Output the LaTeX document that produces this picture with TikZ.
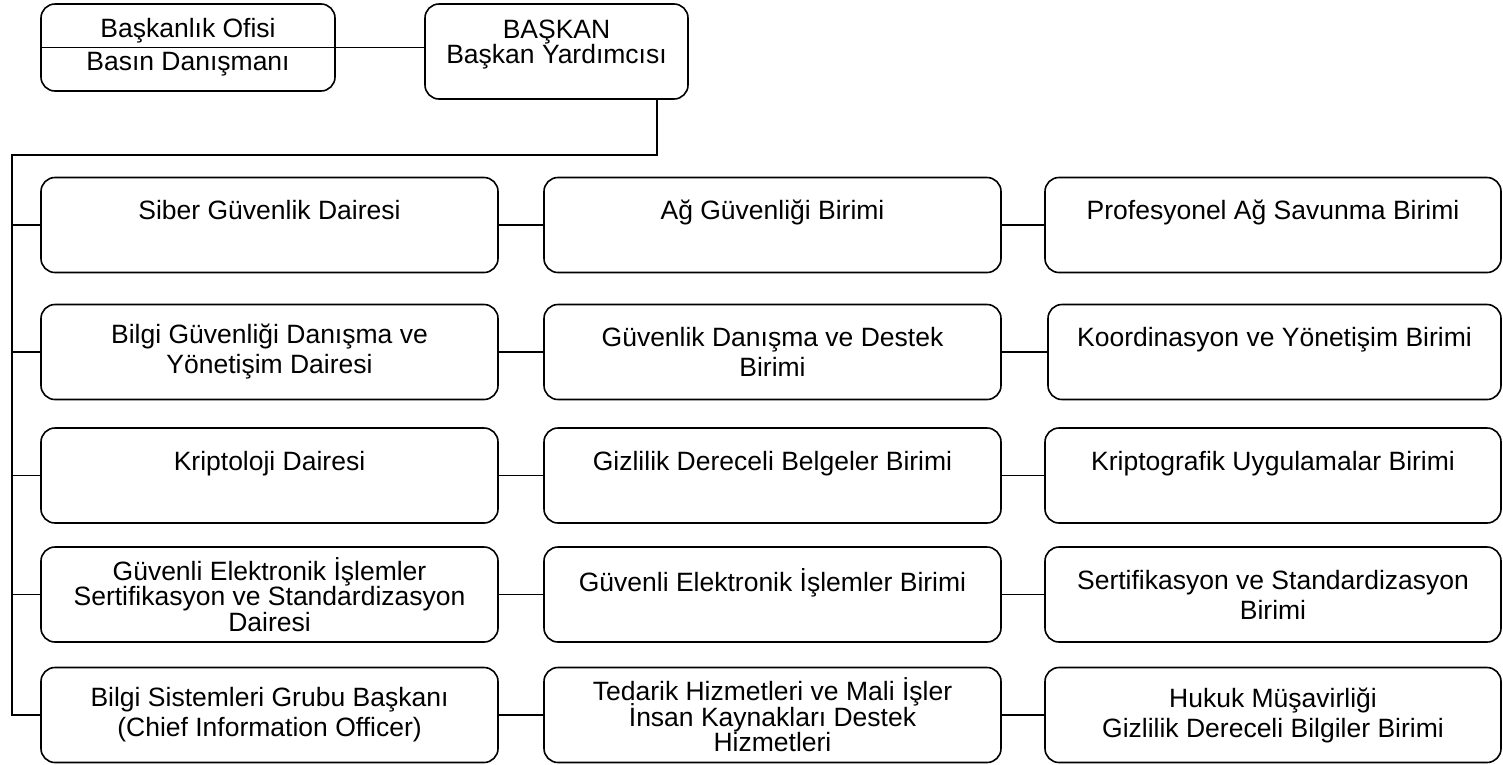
\documentclass[tikz,border=0pt]{standalone}
\usepackage{fontspec}
\setmainfont{Liberation Sans}
\usepackage{tikz}
\newcommand{\blankline}{\\\mbox{}}
\newcommand{\tightfont}{\fontsize{26.5}{25.5}\selectfont\setlength{\lineskiplimit}{-50pt}\relax}

\begin{document}
\begin{tikzpicture}[x=1pt, y=-1pt,
  box/.style={rectangle, rounded corners=14pt, draw=black, line width=1.6pt, minimum width=457pt, minimum height=95pt, inner sep=0pt, align=center, font=\fontsize{26.5}{30}\selectfont},
  tight/.style={font=\tightfont},
  lnk/.style={line width=1.6pt}
]
\useasboundingbox (0,0) rectangle (1503,764);

% top
\node[box, minimum width=294pt, minimum height=87pt] (ofis) at (188,47.5) {Başkanlık Ofisi\\[3pt]Basın Danışmanı};
\node[box, font=\fontsize{26.5}{25}\selectfont, minimum width=263pt] (baskan) at (556.5,51.5) {BAŞKAN\\Başkan Yardımcısı\\[-5pt]\mbox{}};

% daireler
\node[box] (siber) at (269.5,225) {Siber Güvenlik Dairesi\blankline};
\node[box] (bilgidanisma) at (269.5,352) {Bilgi Güvenliği Danışma ve\\Yönetişim Dairesi};
\node[box] (kripto) at (269.5,475.5) {Kriptoloji Dairesi\blankline};
\node[box, tight] (gei) at (269.5,594.5) {Güvenli Elektronik İşlemler\\Sertifikasyon ve Standardizasyon\\Dairesi};
\node[box] (bsgb) at (269.5,715) {Bilgi Sistemleri Grubu Başkanı\\(Chief Information Officer)};

% birimler
\node[box] (agbir) at (772.5,225) {Ağ Güvenliği Birimi\blankline};
\node[box] (destek) at (772.5,352) {Güvenlik Danışma ve Destek\\Birimi};
\node[box] (gizlibelge) at (772.5,475.5) {Gizlilik Dereceli Belgeler Birimi\blankline};
\node[box] (geibir) at (772.5,594.5) {Güvenli Elektronik İşlemler Birimi\blankline};
\node[box, tight] (tedarik) at (772.5,715) {Tedarik Hizmetleri ve Mali İşler\\İnsan Kaynakları Destek\\Hizmetleri};

\node[box, minimum width=456pt] (savunma) at (1273,225) {Profesyonel Ağ Savunma Birimi\blankline};
\node[box, minimum width=453pt] (koord) at (1274.5,352) {Koordinasyon ve Yönetişim Birimi\blankline};
\node[box, minimum width=456pt] (kriptouyg) at (1273,475.5) {Kriptografik Uygulamalar Birimi\blankline};
\node[box, minimum width=456pt] (sertif) at (1273,594.5) {Sertifikasyon ve Standardizasyon\\Birimi};
\node[box, minimum width=456pt] (hukuk) at (1273,715) {Hukuk Müşavirliği\\Gizlilik Dereceli Bilgiler Birimi};

% connectors
\coordinate (tap) at (657,99);
\coordinate (bus) at (12,155);
\draw[lnk] (ofis.west) -- (ofis.west -| baskan.west);
\draw[lnk] (tap) |- (bus) |- (bsgb.west);
\foreach \d in {siber, bilgidanisma, kripto, gei}
  \draw[lnk] (bus) |- (\d.west);
\draw[lnk] (siber) -- (agbir);
\draw[lnk] (agbir) -- (savunma);
\draw[lnk] (bilgidanisma) -- (destek);
\draw[lnk] (destek) -- (koord);
\draw[lnk] (kripto) -- (gizlibelge);
\draw[lnk] (gizlibelge) -- (kriptouyg);
\draw[lnk] (gei) -- (geibir);
\draw[lnk] (geibir) -- (sertif);
\draw[lnk] (bsgb) -- (tedarik);
\draw[lnk] (tedarik) -- (hukuk);
\end{tikzpicture}
\end{document}
